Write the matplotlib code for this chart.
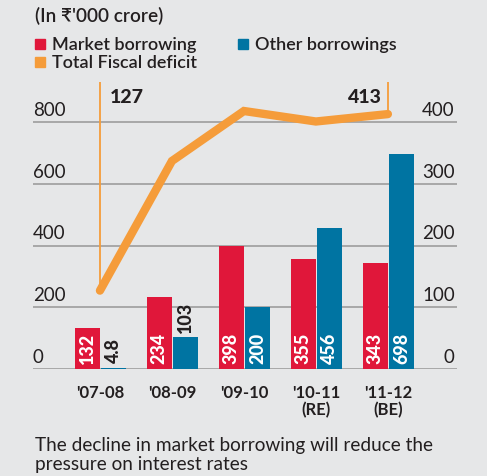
import matplotlib
matplotlib.use("Agg")
import matplotlib.pyplot as plt
from matplotlib.patches import Rectangle
import numpy as np

plt.rcParams["font.family"] = ["Lato", "DejaVu Sans"]

years = ["'07-08", "'08-09", "'09-10", "'10-11\n(RE)", "'11-12\n(BE)"]
market = [132, 234, 398, 355, 343]
other = [4.8, 103, 200, 456, 698]
market_lbl = ["132", "234", "398", "355", "343"]
other_lbl = ["4.8", "103", "200", "456", "698"]
deficit = [127, 337, 418, 401, 413]

left_ticks = [0, 200, 400, 600, 800]
right_ticks = [0, 100, 200, 300, 400]

RED = "#e0173a"
BLUE = "#0074a2"
ORANGE = "#f59c3a"
BG = "#e6e7e8"
GRID = "#9d9d9d"
INK = "#231f20"

W, H = 487, 477
fig = plt.figure(figsize=(W / 100, H / 100), dpi=100, facecolor=BG)


def fx(px):
    return px / W


def fy(py):
    return 1 - py / H


# plot area: x 33..457 px, y 83..370 px
ax = fig.add_axes([fx(33), fy(370), fx(457) - fx(33), fy(83) - fy(370)])
ax.set_facecolor("none")
ax.set_xlim(-0.93, 4.96)
ax.set_ylim(0, 930)
ax2 = ax.twinx()
ax2.set_ylim(0, 465)
for a in (ax, ax2):
    for s in a.spines.values():
        s.set_visible(False)
    a.set_xticks([])
    a.set_yticks([])

for t in left_ticks:
    ax.axhline(t, color=GRID, lw=1.2, zorder=1)

x = np.arange(len(years))
bw = 0.345
ax.bar(x - 0.175, market, bw, color=RED, zorder=2)
ax.bar(x + 0.19, other, bw, color=BLUE, zorder=2)

for i in range(len(years)):
    ax.annotate(market_lbl[i], (x[i] - 0.175, 0), xytext=(0, 4), textcoords="offset points",
                rotation=90, ha="center", va="bottom", color="white",
                fontsize=13, fontweight="black", zorder=3)
    if other[i] < 150:
        ax.annotate(other_lbl[i], (x[i] + 0.19, other[i]), xytext=(0, 4), textcoords="offset points",
                    rotation=90, ha="center", va="bottom", color=INK,
                    fontsize=13, fontweight="black", zorder=3)
    else:
        ax.annotate(other_lbl[i], (x[i] + 0.19, 0), xytext=(0, 4), textcoords="offset points",
                    rotation=90, ha="center", va="bottom", color="white",
                    fontsize=13, fontweight="black", zorder=3)

ax2.plot(x, deficit, color=ORANGE, lw=6, solid_capstyle="round",
         solid_joinstyle="miter", zorder=4)

# marker lines for first and last values
ax2.plot([x[0], x[0]], [deficit[0], 465], color=ORANGE, lw=1.3, zorder=4)
ax2.plot([x[-1], x[-1]], [deficit[-1], 465], color=ORANGE, lw=1.3, zorder=4)
ax2.annotate(str(deficit[0]), (x[0], 465), xytext=(7, -4), textcoords="offset points",
             ha="left", va="top", fontsize=14, fontweight="black", color=INK)
ax2.annotate(str(deficit[-1]), (x[-1], 465), xytext=(-4, -4), textcoords="offset points",
             ha="right", va="top", fontsize=14, fontweight="black", color=INK)

# axis labels sitting above the gridlines
for t in left_ticks:
    ax.annotate(str(t), (-0.93, t), xytext=(0, 3), textcoords="offset points",
                ha="left", va="bottom", fontsize=13.5, color=INK)
for t in right_ticks:
    ax2.annotate(str(t), (4.93, t), xytext=(0, 3), textcoords="offset points",
                 ha="right", va="bottom", fontsize=13.5, color=INK)

for i, lab in enumerate(years):
    ax.annotate(lab, (x[i], 0), xytext=(0, -11), textcoords="offset points",
                ha="center", va="top", fontsize=12, fontweight="bold", color=INK,
                linespacing=1.05)

# header + legend
fig.text(fx(35), fy(16), "(In ₹'000 crore)", fontsize=13.7, fontweight="semibold",
         color=INK, va="center", ha="left")
legend = [(35, 45, RED, "Market borrowing"),
          (238, 45, BLUE, "Other borrowings"),
          (35, 63, ORANGE, "Total Fiscal deficit")]
for px, py, col, lab in legend:
    fig.patches.append(Rectangle((fx(px), fy(py + 5)), fx(10), 10 / H,
                                 transform=fig.transFigure, color=col))
    fig.text(fx(px + 17), fy(py), lab, fontsize=13, fontweight="semibold",
             color=INK, va="center", ha="left")

fig.text(fx(35), fy(455), "The decline in market borrowing will reduce the\npressure on interest rates",
         fontsize=13.7, color=INK, va="center", ha="left", linespacing=1.2)

fig.savefig("out.png", dpi=100, facecolor=BG)
